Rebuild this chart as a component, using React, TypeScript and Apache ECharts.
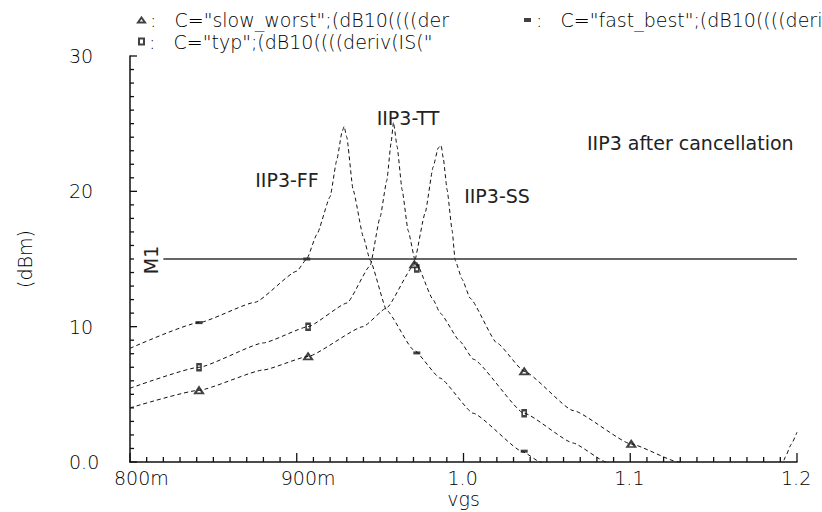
import React, { useEffect, useRef } from "react";
import * as echarts from "echarts";

// ---- data ----
const xTickLabels = ["800m", "900m", "1.0", "1.1", "1.2"];
const yTickLabels = ["0.0", "10", "20", "30"];

const SS_NAME = 'C="slow_worst";(dB10((((der';
const FF_NAME = 'C="fast_best";(dB10((((deri';
const TT_NAME = 'C="typ";(dB10((((deriv(IS("';

// IIP3 fast/fast corner
const ffCurve: (number | null)[][] = [
  [0.8, 8.4], [0.8414, 10.3], [0.875, 11.8], [0.9, 14.1],
  [0.906, 15.0], [0.912, 16.8], [0.92, 19.6], [0.924, 22.3], [0.9272, 24.4], [0.9284, 24.8],
  [0.93, 24.0], [0.9338, 20.1], [0.94, 16.6], [0.944, 14.9], [0.954, 11.2], [0.97, 8.3],
  [0.986, 6.2], [1.0058, 3.6], [1.0358, 0.74], [1.046, 0], [1.05, -0.4],
  [1.12, null],
  [1.19, -0.3], [1.1917, 0], [1.193, 0.37], [1.1965, 1.3], [1.2, 2.2],
];
// IIP3 typical corner
const ttCurve: number[][] = [
  [0.8, 5.45], [0.8414, 7.0], [0.88, 8.8], [0.9068, 10.0], [0.9302, 11.75], [0.944, 14.5],
  [0.95, 18.1], [0.954, 20.8], [0.9566, 23.6], [0.958, 25.1], [0.9602, 23.3],
  [0.9632, 20.1], [0.9668, 17.1], [0.971, 14.9], [0.9818, 12.0], [0.986, 11.0], [0.998, 8.9],
  [1.0058, 7.6], [1.0364, 3.6], [1.0658, 1.4], [1.0856, 0], [1.09, -0.3],
];
// IIP3 slow/slow corner
const ssCurve: number[][] = [
  [0.8, 4.0], [0.8414, 5.3], [0.88, 6.8], [0.9068, 7.8], [0.9398, 10.0], [0.954, 11.4],
  [0.97, 14.5], [0.977, 18.4], [0.9818, 21.8], [0.9848, 23.2], [0.9866, 23.4], [0.9878, 22.5],
  [0.9902, 20.1], [0.9932, 17.1], [0.995, 14.9], [0.9992, 13.5], [1.004, 12.1], [1.02, 8.8],
  [1.0364, 6.7], [1.0658, 3.8], [1.1006, 1.33], [1.1288, 0], [1.133, -0.2],
];

const ffMarkers = [[0.8414, 10.3], [0.906, 15.0], [0.972, 8.06], [1.0364, 0.8]];
const ttMarkers = [[0.8414, 7.0], [0.9068, 10.0], [0.972, 14.3], [1.0364, 3.6]];
const ssMarkers = [[0.8414, 5.3], [0.9068, 7.8], [0.9705, 14.6], [1.0364, 6.7], [1.1006, 1.33]];

const M1_LEVEL = 15;
const m1Line = [[0.82, M1_LEVEL], [1.2, M1_LEVEL]];

// axis scale: major step and minor subdivisions
const X_MIN = 0.8, X_MAX = 1.2, X_STEP = 0.1;
const Y_MIN = 0, Y_MAX = 30, Y_STEP = 10;
const MINOR_SPLIT = 10;

const FONT = "'DejaVu Sans', sans-serif";
const INK = "#000";

export default function App() {
  const ref = useRef<HTMLDivElement>(null);
  useEffect(() => {
    document.body.style.margin = "0";
    const chart = echarts.init(ref.current!, null, { renderer: "svg" });

    const curveStyle = { color: "#111", width: 1, type: [4, 3] as any };
    const legendBase = {
      orient: "horizontal",
      padding: 0,
      itemGap: 0,
      selectedMode: false,
      formatter: (n: string) => ":\u00a0\u00a0\u00a0" + n,
      textStyle: { fontFamily: FONT, fontSize: 19, color: INK, fontWeight: 200 },
    };
    const annot = (text: string, x: number, y: number, align = "center", size = 19) => ({
      type: "text",
      x,
      y,
      style: {
        text,
        fontFamily: FONT,
        fontSize: size,
        fontWeight: "normal",
        fill: "#222",
        align,
        textAlign: align,
        verticalAlign: "middle",
        textVerticalAlign: "middle",
      },
    });
    const texts: any[] = [
      annot("IIP3-FF", 287, 180),
      annot("IIP3-TT", 408, 118),
      annot("IIP3-SS", 497, 196),
      annot("IIP3 after cancellation", 587, 143, "left"),
      { ...annot("M1", 151, 260), rotation: Math.PI / 2 },
    ];
    chart.setOption({
      animation: false,
      backgroundColor: "#fff",
      color: ["#111"],
      grid: { left: 130, right: 25, top: 56, bottom: 50, outerBoundsMode: "none", containLabel: false },
      legend: [
        { ...legendBase, left: 137, top: 10.5, itemWidth: 7, itemHeight: 5, data: [{ name: SS_NAME, icon: "emptyTriangle" }] },
        { ...legendBase, left: 524, top: 10.5, itemWidth: 7, itemHeight: 4, data: [{ name: FF_NAME, icon: "rect" }] },
        { ...legendBase, left: 138, top: 32, itemWidth: 5, itemHeight: 6, data: [{ name: TT_NAME, icon: "emptyRect" }] },
      ],
      xAxis: {
        type: "value",
        min: X_MIN,
        max: X_MAX,
        interval: X_STEP,
        name: "vgs",
        nameLocation: "middle",
        nameGap: 27,
        nameMoveOverlap: false,
        nameTextStyle: { fontFamily: FONT, fontSize: 19, color: INK, fontWeight: 200 },
        axisLine: { show: true, onZero: false, lineStyle: { color: "#111", width: 1.5 } },
        axisTick: { show: false },
        minorTick: { show: false },
        splitLine: { show: false },
        axisLabel: {
          show: true,
          margin: 6,
          align: "left",
          padding: [0, 0, 0, -16],
          fontFamily: FONT,
          fontSize: 19,
          fontWeight: 200,
          color: INK,
          formatter: (v: number) => xTickLabels[Math.round((v - X_MIN) / X_STEP)] ?? "",
        },
      },
      yAxis: {
        type: "value",
        min: Y_MIN,
        max: Y_MAX,
        interval: Y_STEP,
        name: "(dBm)",
        nameLocation: "middle",
        nameGap: 96,
        nameRotate: 90,
        nameMoveOverlap: false,
        nameTextStyle: { fontFamily: FONT, fontSize: 19, color: INK, fontWeight: 200 },
        axisLine: { show: true, onZero: false, lineStyle: { color: "#111", width: 1.5 } },
        axisTick: { show: false },
        minorTick: { show: false },
        splitLine: { show: false },
        axisLabel: {
          show: true,
          margin: 61,
          align: "left",
          padding: [0, 0, 11, 0],
          fontFamily: FONT,
          fontSize: 19,
          fontWeight: 200,
          color: INK,
          formatter: (v: number) => yTickLabels[Math.round(v / Y_STEP)] ?? "",
        },
      },
      series: [
        { name: "IIP3-FF", type: "line", data: ffCurve, showSymbol: false, smooth: 0.15, smoothMonotone: "x", lineStyle: curveStyle, silent: true, clip: true },
        { name: "IIP3-TT", type: "line", data: ttCurve, showSymbol: false, smooth: 0.15, smoothMonotone: "x", lineStyle: curveStyle, silent: true, clip: true },
        { name: "IIP3-SS", type: "line", data: ssCurve, showSymbol: false, smooth: 0.15, smoothMonotone: "x", lineStyle: curveStyle, silent: true, clip: true },
        { name: "M1", type: "line", data: m1Line, showSymbol: false, lineStyle: { color: "#333", width: 1.5, type: "solid" }, silent: true },
        { name: FF_NAME, type: "scatter", data: ffMarkers, symbol: "rect", symbolSize: [7, 3], itemStyle: { color: "#111" }, silent: true },
        { name: TT_NAME, type: "scatter", data: ttMarkers, symbol: "emptyRect", symbolSize: [4, 6], itemStyle: { color: "#111", borderWidth: 1 }, silent: true },
        { name: SS_NAME, type: "scatter", data: ssMarkers, symbol: "emptyTriangle", symbolSize: [8, 6], itemStyle: { color: "#111", borderWidth: 1 }, silent: true },
      ],
      graphic: texts,
    });

    // tick marks: positions come from the chart's own axis scales
    const ticks: any[] = [];
    const nx = Math.round((X_MAX - X_MIN) / X_STEP) * MINOR_SPLIT;
    for (let i = 0; i <= nx; i++) {
      const p = chart.convertToPixel({ gridIndex: 0 }, [X_MIN + (i * X_STEP) / MINOR_SPLIT, Y_MIN]) as number[];
      const len = i % MINOR_SPLIT === 0 ? 9 : 5;
      ticks.push({ type: "line", silent: true, z: 100, shape: { x1: p[0], y1: p[1], x2: p[0], y2: p[1] - len }, style: { stroke: "#111", lineWidth: 1.3 } });
    }
    const ny = Math.round((Y_MAX - Y_MIN) / Y_STEP) * MINOR_SPLIT;
    for (let i = 0; i <= ny; i++) {
      const p = chart.convertToPixel({ gridIndex: 0 }, [X_MIN, Y_MIN + (i * Y_STEP) / MINOR_SPLIT]) as number[];
      const len = i % MINOR_SPLIT === 0 ? 7 : 4;
      ticks.push({ type: "line", silent: true, z: 100, shape: { x1: p[0], y1: p[1], x2: p[0] + len, y2: p[1] }, style: { stroke: "#111", lineWidth: 1.3 } });
    }
    chart.setOption({ graphic: [...texts, ...ticks] });

    return () => chart.dispose();
  }, []);
  return <div ref={ref} style={{ width: 822, height: 512 }} />;
}
